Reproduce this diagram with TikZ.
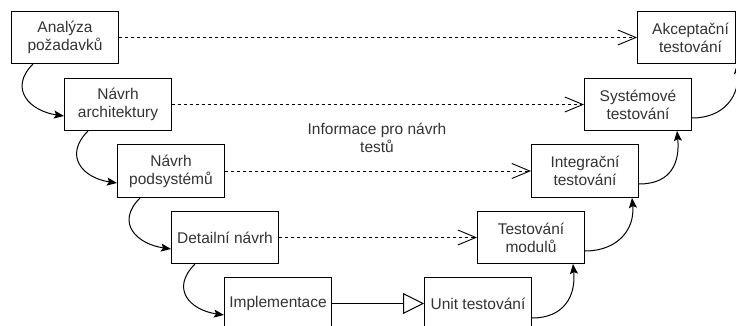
\documentclass[tikz,border=0pt]{standalone}
\usepackage{fontspec}
\setmainfont{Liberation Sans}
\usetikzlibrary{arrows.meta}
\begin{document}
\begin{tikzpicture}[x=1pt,y=-1pt,
  box/.style={draw=black, line width=1pt, rectangle, anchor=north west, minimum width=107pt, minimum height=52pt, inner sep=0pt, align=center, text=black!80, font=\fontsize{15.5}{18}\selectfont},
  infotext/.style={align=center, text=black!80, font=\fontsize{15.5}{18}\selectfont},
  dashedarrow/.style={draw=black, line width=0.9pt, dash pattern=on 3pt off 3pt, -{Straight Barb[length=18pt,width=15pt,line width=0.9pt]}},
  curvearrow/.style={draw=black, line width=1pt, -{Stealth[length=10pt,width=8pt,inset=2pt]}},
  solidarrow/.style={draw=black, line width=1pt, -{Triangle[open,length=21pt,width=21pt,line width=1pt]}}
]
\useasboundingbox (0,0) rectangle (736,326);
% left boxes
\node[box] (a1) at (11,11) {Analýza\\požadavků};
\node[box] (a2) at (64,78) {Návrh\\architektury};
\node[box, minimum height=53pt] (a3) at (117,144) {Návrh\\podsystémů};
\node[box] (a4) at (171,211) {Detailní návrh};
\node[box] (a5) at (224,277) {Implementace};
% right boxes
\node[box, minimum width=98pt] (b1) at (637,11) {\hspace*{8pt}Akceptační\\\hspace*{8pt}testování};
\node[box] (b2) at (584,78) {Systémové\\testování};
\node[box, minimum height=53pt] (b3) at (531,144) {Integrační\\testování};
\node[box] (b4) at (477,211) {Testování\\modulů};
\node[box] (b5) at (424,277) {Unit testování};
% label
\node[infotext] (info) at (377,138) {Informace pro návrh\\testů};
% dashed connectors
\draw[dashedarrow] (a1.east) -- (b1.west);
\draw[dashedarrow] (a2.east) -- (b2.west);
\draw[dashedarrow] (a3.east) -- (b3.west);
\draw[dashedarrow] (a4.east) -- (b4.west);
\draw[solidarrow] (a5.east) -- (b5.west);
% left curves
\draw[curvearrow] ([xshift=22pt]a1.south west) .. controls +(-25,25) and +(-34,-5) .. ([yshift=15pt]a2.south west);
\draw[curvearrow] ([xshift=24pt]a2.south west) .. controls +(-25,25) and +(-34,-5) .. ([yshift=15pt]a3.south west);
\draw[curvearrow] ([xshift=23pt]a3.south west) .. controls +(-25,25) and +(-34,-5) .. ([yshift=15pt]a4.south west);
\draw[curvearrow] ([xshift=24pt]a4.south west) .. controls +(-25,25) and +(-34,-5) .. ([yshift=15pt]a5.south west);
% right curves
\draw[curvearrow] ([yshift=12pt]b5.south east) .. controls +(32,0) and +(3,32) .. ([xshift=-12pt]b4.south east);
\draw[curvearrow] ([yshift=13pt]b4.south east) .. controls +(32,0) and +(3,32) .. ([xshift=-7pt]b3.south east);
\draw[curvearrow] ([yshift=14pt]b3.south east) .. controls +(32,0) and +(3,32) .. ([xshift=-15pt]b2.south east);
\draw[curvearrow] ([yshift=13pt]b2.south east) .. controls +(32,0) and +(3,32) .. ([xshift=1pt]b1.south east);
\end{tikzpicture}
\end{document}
